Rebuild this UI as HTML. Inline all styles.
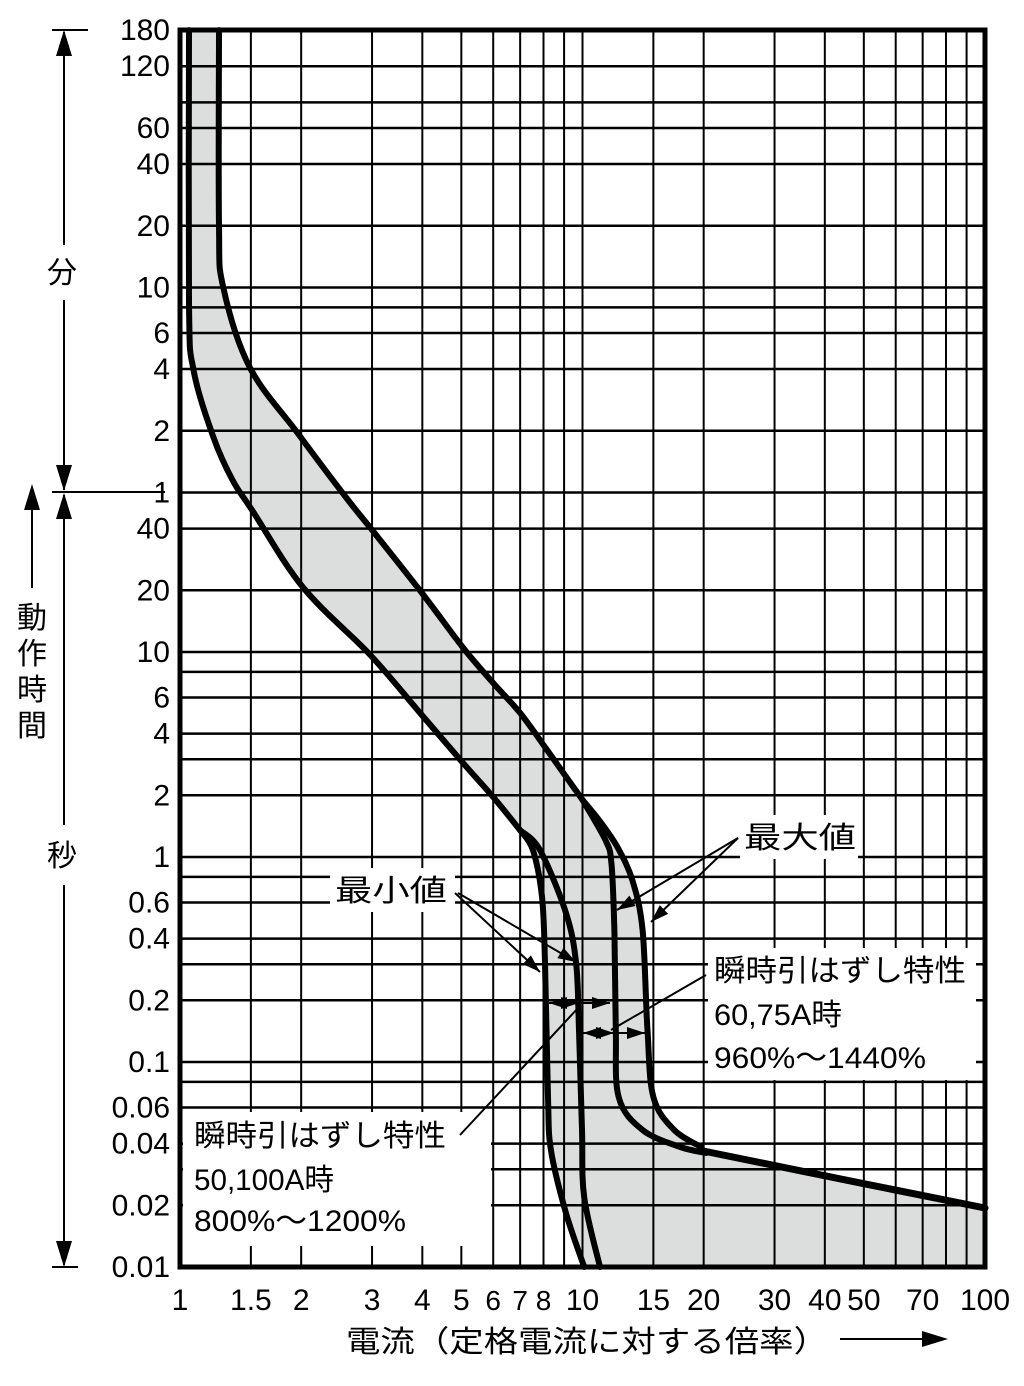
<!DOCTYPE html>
<html><head><meta charset="utf-8"><style>
html,body{margin:0;padding:0;background:#fff;}
svg{display:block;}
text{font-family:"Liberation Sans","Noto Sans CJK JP",sans-serif;fill:#000;}
</style></head><body>
<svg id="chart" width="1024" height="1386" viewBox="0 0 1024 1386" xmlns="http://www.w3.org/2000/svg">
<g id="fill"></g>
<g id="grid"></g>
<g id="boxes"></g>
<g id="curves"></g>
<rect x="180" y="30" width="805" height="1237" fill="none" stroke="#000" stroke-width="5"/>
<g id="ylabels"></g>
<g id="xlabels"></g>
<g id="annot" stroke="#000" stroke-width="2" fill="#000">
  <line x1="64" y1="32" x2="64" y2="245" />
  <line x1="64" y1="300" x2="64" y2="490" />
  <line x1="64" y1="495" x2="64" y2="825" />
  <line x1="64" y1="885" x2="64" y2="1265" />
  <line x1="52" y1="30" x2="88" y2="30"/>
  <line x1="52" y1="492" x2="165" y2="492"/>
  <line x1="52" y1="1267" x2="78" y2="1267"/>
  <polygon points="64,30 56,56 72,56" stroke="none"/>
  <polygon points="64,491 56,465 72,465" stroke="none"/>
  <polygon points="64,493 56,519 72,519" stroke="none"/>
  <polygon points="64,1267 56,1241 72,1241" stroke="none"/>
  <line x1="32" y1="510" x2="32" y2="588"/>
  <polygon points="32,484 24,510 40,510" stroke="none"/>
</g>
<text x="62" y="283" font-size="30" text-anchor="middle">分</text>
<text x="62" y="866" font-size="30" text-anchor="middle">秒</text>
<text font-size="30" text-anchor="middle"><tspan x="32" y="628">動</tspan><tspan x="32" y="664">作</tspan><tspan x="32" y="700">時</tspan><tspan x="32" y="736">間</tspan></text>
<text x="346" y="1352" font-size="30" textLength="482" lengthAdjust="spacingAndGlyphs">電流（定格電流に対する倍率）</text>
<line x1="840" y1="1339" x2="925" y2="1339" stroke="#000" stroke-width="2"/>
<polygon points="948,1339 922,1331 922,1347" fill="#000"/>
<g id="labels"></g>
</svg>
<script>
// ---- data ----
const xTickValues = [1,1.5,2,3,4,5,6,7,8,10,15,20,30,40,50,70,100];
const xTickLabels = ["1","1.5","2","3","4","5","6","7","8","10","15","20","30","40","50","70","100"];
const xGridValues = [1.5,2,3,4,5,6,7,8,9,10,15,20,30,40,50,60,70,80,90];
const yGridSeconds = [7200,4800,3600,2400,1200,600,480,360,240,120,60,40,20,10,8,6,4,3,2,1,0.8,0.6,0.4,0.3,0.2,0.1,0.08,0.06,0.04,0.03,0.02];
const yTickSeconds = [10800,7200,3600,2400,1200,600,360,240,120,60,40,20,10,6,4,2,1,0.6,0.4,0.2,0.1,0.06,0.04,0.02,0.01];
const yTickLabels = ["180","120","60","40","20","10","6","4","2","1","40","20","10","6","4","2","1","0.6","0.4","0.2","0.1","0.06","0.04","0.02","0.01"];
const maxCurrent = [1.25,1.25,1.28,1.49,1.96,2.58,3.0,3.99,5.05,6.0,7.0,8.16,10.0];
const maxTime    = [10800,1200,603,245,117,57,39.4,19.4,10.5,7.06,5.04,3.33,1.9];
const maxOuterCurrent = [10.0,11.0,12.2,13.3,14.1,14.5,15.0,16.9,19.7];
const maxOuterTime    = [1.9,1.51,1.12,0.77,0.44,0.143,0.0674,0.0466,0.0385];
const maxInnerCurrent = [10.0,11.4,11.8,12.0,12.1,12.3,14.1,17.5,20.3];
const maxInnerTime    = [1.9,1.21,0.935,0.44,0.143,0.0674,0.0466,0.0385,0.036];
const tailCurrent = [19.7,50,100];
const tailTime    = [0.037,0.0255,0.0194];
const minCurrent = [1.053,1.053,1.08,1.21,1.35,1.51,2.02,2.97,3.95,5.05,6.0,7.0];
const minTime    = [10800,504,238,112,69,49.3,20.7,9.67,5.04,2.87,1.96,1.35];
const minLeftCurrent = [7.0,7.53,7.93,8.07,8.21,8.35,9.10,10.1];
const minLeftTime    = [1.35,1.08,0.64,0.304,0.0674,0.037,0.0183,0.01];
const minRightCurrent = [7.0,7.84,9.10,9.64,9.8,9.97,10.1,11.05];
const minRightTime    = [1.35,1.08,0.533,0.304,0.143,0.0466,0.0219,0.01];

const X = v => 180 + 402.5*Math.log10(v);
const Y = s => 1267 - 205*(Math.log10(s)+2);
const NS = "http://www.w3.org/2000/svg";
function mk(tag, parent){const e=document.createElementNS(NS,tag);document.getElementById(parent).appendChild(e);return e;}
function pts(cs,ts){return cs.map((c,i)=>[X(c),Y(ts[i])]);}
function smooth(p){
  let d="M"+p[0][0].toFixed(1)+","+p[0][1].toFixed(1);
  for(let i=0;i<p.length-1;i++){
    const p0=p[Math.max(0,i-1)],p1=p[i],p2=p[i+1],p3=p[Math.min(p.length-1,i+2)];
    const c1=[p1[0]+(p2[0]-p0[0])/6,p1[1]+(p2[1]-p0[1])/6];
    const c2=[p2[0]-(p3[0]-p1[0])/6,p2[1]-(p3[1]-p1[1])/6];
    d+=" C"+c1[0].toFixed(1)+","+c1[1].toFixed(1)+" "+c2[0].toFixed(1)+","+c2[1].toFixed(1)+" "+p2[0].toFixed(1)+","+p2[1].toFixed(1);
  }
  return d;
}
const leftB = pts(minCurrent,minTime).concat(pts(minLeftCurrent,minLeftTime).slice(1));
const rightB = pts(maxCurrent,maxTime).concat(pts(maxOuterCurrent,maxOuterTime).slice(1)).concat(pts(tailCurrent,tailTime).slice(1));
const poly = leftB.concat([[985,1267]]).concat(rightB.slice().reverse());
const band = mk("polygon","fill");


band.setAttribute("points", poly.map(p=>p[0].toFixed(1)+","+p[1].toFixed(1)).join(" "));
band.setAttribute("fill","#dcdddd");

xGridValues.forEach(v=>{
  const l=mk("line","grid");
  
  
  l.setAttribute("x1",X(v));l.setAttribute("x2",X(v));l.setAttribute("y1",30);l.setAttribute("y2",1267);
  l.setAttribute("stroke","#000");l.setAttribute("stroke-width","2");
});
yGridSeconds.forEach(s=>{
  const l=mk("line","grid");
  
  
  l.setAttribute("x1",180);l.setAttribute("x2",985);l.setAttribute("y1",Y(s));l.setAttribute("y2",Y(s));
  l.setAttribute("stroke","#000");l.setAttribute("stroke-width","2.5");
});

[[330,868,125,44],[740,815,118,44],[708,948,268,132],[183,1112,308,134]].forEach(b=>{
  const r=mk("rect","boxes");
  
  
  r.setAttribute("x",b[0]);r.setAttribute("y",b[1]);r.setAttribute("width",b[2]);r.setAttribute("height",b[3]);r.setAttribute("fill","#fff");
});

[[pts(maxCurrent,maxTime),'max-curve'],[pts(maxOuterCurrent,maxOuterTime),'max-outer-branch'],[pts(maxInnerCurrent,maxInnerTime),'max-inner-branch'],
 [pts(tailCurrent,tailTime),'max-tail'],[pts(minCurrent,minTime),'min-curve'],[pts(minLeftCurrent,minLeftTime),'min-left-branch'],[pts(minRightCurrent,minRightTime),'min-right-branch']].forEach(c=>{
  const p=mk("path","curves");
  
  
  p.setAttribute("d",smooth(c[0]));p.setAttribute("fill","none");p.setAttribute("stroke","#000");
  p.setAttribute("stroke-width",c[1]==='max-tail'?"7":"6");p.setAttribute("stroke-linejoin","round");p.setAttribute("stroke-linecap","round");
});

yTickSeconds.forEach((s,i)=>{
  const t=mk("text","ylabels");
  
  
  let y=Y(s); if(s===7200) y=66;
  t.setAttribute("x",170);t.setAttribute("y",y+10);t.setAttribute("text-anchor","end");t.setAttribute("font-size","30");
  t.textContent=yTickLabels[i];
});
xTickValues.forEach((v,i)=>{
  const t=mk("text","xlabels");
  
  
  t.setAttribute("x",X(v));t.setAttribute("y",1310);t.setAttribute("text-anchor","middle");t.setAttribute("font-size","30");
  if(v>=6 && v<=8) t.setAttribute("font-size","28");
  t.textContent=xTickLabels[i];
});

function txt(x,y,s,size,len,name){const t=mk("text","labels");
  
  
  t.setAttribute("x",x);t.setAttribute("y",y);t.setAttribute("font-size",size);
  if(len){t.setAttribute("textLength",len);t.setAttribute("lengthAdjust","spacingAndGlyphs");}
  t.textContent=s;}
txt(335,901,"最小値",30,112,'min-value-label');
txt(744,848,"最大値",30,112,'max-value-label');
txt(714,981,"瞬時引はずし特性",30,252,'instant-trip-label-right');
txt(714,1025,"60,75A時",30,128,'rating-label-right');
txt(714,1068,"960%～1440%",30,212,'range-label-right');
txt(194,1146,"瞬時引はずし特性",30,252,'instant-trip-label-left');
txt(194,1190,"50,100A時",30,140,'rating-label-left');
txt(194,1231,"800%～1200%",30,212,'range-label-left');
function line(x1,y1,x2,y2,name){const l=mk("line","labels");
  
  
  l.setAttribute("x1",x1);l.setAttribute("y1",y1);l.setAttribute("x2",x2);l.setAttribute("y2",y2);l.setAttribute("stroke","#000");l.setAttribute("stroke-width","2");}
function head(x,y,fx,fy,name){const a=Math.atan2(y-fy,x-fx),L=18,W=6;
  const p=mk("polygon","labels");
  
  
  const bx=x-L*Math.cos(a),by=y-L*Math.sin(a);
  p.setAttribute("points",x+","+y+" "+(bx-W*Math.sin(a))+","+(by+W*Math.cos(a))+" "+(bx+W*Math.sin(a))+","+(by-W*Math.cos(a)));p.setAttribute("fill","#000");}
line(455,893,540,972,'min-pointer-1');head(540,972,455,893,'min-pointer-head-1');
line(458,893,576,962,'min-pointer-2');head(576,962,458,893,'min-pointer-head-2');
line(738,838,617,910,'max-pointer-1');head(617,910,738,838,'max-pointer-head-1');
line(738,838,651,922,'max-pointer-2');head(651,922,738,838,'max-pointer-head-2');
line(549,1003,610,1003,'range-arrow-left');head(549,1003,610,1003,'range-arrow-head');head(579,1003,549,1003,'range-arrow-head');head(610,1003,579,1003,'range-arrow-head');
line(583,1033,645,1033,'range-arrow-right');head(583,1033,645,1033,'range-arrow-head');head(614,1033,583,1033,'range-arrow-head');head(645,1033,614,1033,'range-arrow-head');
line(579,1007,460,1135,'leader-left');
line(611,1030,706,975,'leader-right');
</script>
</body></html>
